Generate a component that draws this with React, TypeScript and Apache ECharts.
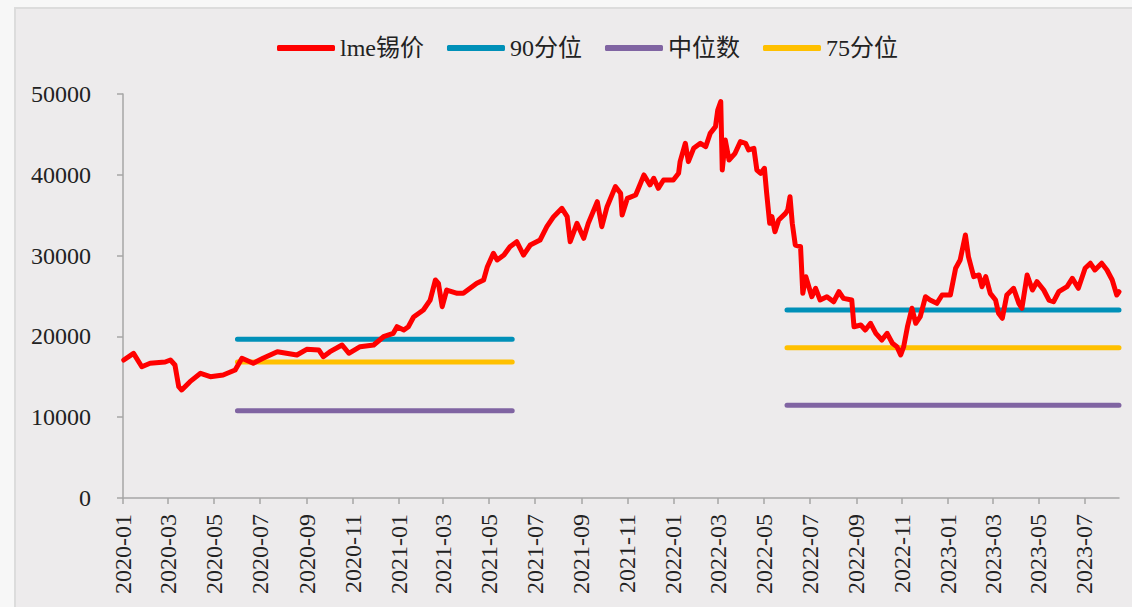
import React, { useEffect, useRef } from "react";
import * as echarts from "echarts";

const seriesNames = ["lme锡价", "90分位", "中位数", "75分位"];

const priceDates = [
  "2020-01-02","2020-01-15","2020-01-26","2020-02-06","2020-02-26","2020-03-04","2020-03-10","2020-03-15","2020-03-19","2020-03-30",
  "2020-04-13","2020-04-26","2020-05-13","2020-05-29","2020-06-07","2020-06-22","2020-07-05","2020-07-24","2020-08-19","2020-09-01",
  "2020-09-17","2020-09-23","2020-10-02","2020-10-18","2020-10-27","2020-11-11","2020-11-29","2020-12-12","2020-12-25","2020-12-30",
  "2021-01-08","2021-01-14","2021-01-21","2021-02-03","2021-02-12","2021-02-19","2021-02-23","2021-02-28","2021-03-06","2021-03-20",
  "2021-03-28","2021-04-06","2021-04-15","2021-04-24","2021-04-29","2021-05-07","2021-05-12","2021-05-21","2021-05-29","2021-06-07",
  "2021-06-16","2021-06-25","2021-07-08","2021-07-17","2021-07-26","2021-08-06","2021-08-13","2021-08-17","2021-08-26","2021-09-04",
  "2021-09-10","2021-09-22","2021-09-28","2021-10-05","2021-10-16","2021-10-23","2021-10-25","2021-11-01","2021-11-12","2021-11-23",
  "2021-12-01","2021-12-06","2021-12-12","2021-12-19","2022-01-01","2022-01-08","2022-01-10","2022-01-17","2022-01-21","2022-01-28",
  "2022-02-06","2022-02-13","2022-02-19","2022-02-26","2022-03-01","2022-03-05","2022-03-07","2022-03-11","2022-03-16","2022-03-24",
  "2022-03-31","2022-04-07","2022-04-11","2022-04-18","2022-04-22","2022-04-27","2022-05-02","2022-05-05","2022-05-09","2022-05-12",
  "2022-05-16","2022-05-21","2022-05-30","2022-06-02","2022-06-05","2022-06-08","2022-06-12","2022-06-19","2022-06-22","2022-06-26",
  "2022-07-04","2022-07-09","2022-07-15","2022-07-24","2022-08-02","2022-08-09","2022-08-15","2022-08-26","2022-08-29","2022-09-07",
  "2022-09-13","2022-09-20","2022-09-27","2022-10-05","2022-10-12","2022-10-19","2022-10-25","2022-10-30","2022-11-03","2022-11-08",
  "2022-11-14","2022-11-19","2022-11-25","2022-12-02","2022-12-08","2022-12-17","2022-12-24","2023-01-04","2023-01-11","2023-01-17",
  "2023-01-24","2023-01-28","2023-02-04","2023-02-11","2023-02-15","2023-02-20","2023-02-26","2023-03-05","2023-03-09","2023-03-14",
  "2023-03-20","2023-03-29","2023-04-05","2023-04-09","2023-04-16","2023-04-23","2023-04-29","2023-05-08","2023-05-15","2023-05-21",
  "2023-05-28","2023-06-08","2023-06-15","2023-06-23","2023-07-02","2023-07-09","2023-07-15","2023-07-24","2023-07-31","2023-08-07",
  "2023-08-13","2023-08-16"
];

const priceValues = [
  17080,17900,16250,16670,16830,17080,16460,13780,13370,14400,
  15430,15010,15220,15840,17290,16670,17290,18110,17700,18400,
  18320,17490,18110,18940,17910,18730,18940,19960,20380,21200,
  20790,21200,22400,23270,24500,26980,26570,23680,25740,25330,
  25330,25950,26570,26980,28630,30280,29460,30070,31100,31720,
  30070,31310,31930,33580,34820,35850,34820,31720,33990,32140,
  33990,36670,33580,36050,38530,37710,35020,37090,37500,39980,
  38740,39570,38330,39360,39360,40190,41630,43900,41630,43280,
  43900,43480,45130,45960,48020,49050,40590,44310,41830,42660,
  44100,43900,43070,43280,40590,40190,40800,37710,34000,34820,
  32960,34410,35230,35640,37290,34000,31310,31100,25330,27390,
  24910,25950,24500,24910,24290,25530,24710,24500,21200,21410,
  20790,21620,20380,19550,20380,19150,18730,17700,18730,21200,
  23480,21620,22440,24910,24500,24090,25120,25120,28430,29460,
  32550,29870,27390,27600,26150,27390,25330,24500,22860,22240,
  25120,25950,24090,23480,27600,25740,26770,25740,24500,24290,
  25530,26150,27180,25950,28430,29050,28220,29050,28220,26980,
  25120,25530
];

// percentile reference segments
const periodStarts = ["2020-06-01", "2022-06-01"];
const periodEnds = ["2021-06-01", "2023-08-16"];
const p90Values = [19640, 23270];
const medianValues = [10800, 11470];
const p75Values = [16830, 18600];

const xTickDates = [
  "2020-01-01","2020-03-01","2020-05-01","2020-07-01","2020-09-01","2020-11-01",
  "2021-01-01","2021-03-01","2021-05-01","2021-07-01","2021-09-01","2021-11-01",
  "2022-01-01","2022-03-01","2022-05-01","2022-07-01","2022-09-01","2022-11-01",
  "2023-01-01","2023-03-01","2023-05-01","2023-07-01"
];
const xMin = "2020-01-01";
const xMax = "2023-08-16";
const yMax = 50000;
const yInterval = 10000;

const colors = ["#ff0000", "#0090b8", "#8064a2", "#ffc000"];

function ts(s: string): number {
  const [y, m, d] = s.split("-").map(Number);
  return Date.UTC(y, m - 1, d);
}

function segData(vals: number[]) {
  const out: any[] = [];
  vals.forEach((v, i) => {
    if (i > 0) out.push([ts(periodEnds[i - 1]) + 86400000 * 30, "-"]);
    out.push([ts(periodStarts[i]), v]);
    out.push([ts(periodEnds[i]), v]);
  });
  return out;
}

export default function App() {
  const ref = useRef<HTMLDivElement>(null);
  useEffect(() => {
    if (!ref.current) return;
    const chart = echarts.init(ref.current, null, { renderer: "svg" });
    const font = "'Liberation Serif', 'Noto Sans CJK SC', serif";
    const tickTs = xTickDates.map(ts);
    const axisColor = "#a6a6a6";
    const refLine = (name: string, color: string, vals: number[]) => ({
      name,
      type: "line",
      data: segData(vals),
      showSymbol: false,
      symbol: "none",
      connectNulls: false,
      z: 2,
      lineStyle: { color, width: 5, cap: "round" },
      itemStyle: { color },
    });
    chart.setOption({
      animation: false,
      backgroundColor: "transparent",
      color: colors,
      legend: {
        left: 272,
        top: 31,
        itemWidth: 58,
        itemHeight: 6,
        itemGap: 23,
        icon: "roundRect",
        data: seriesNames,
        textStyle: { fontFamily: font, fontSize: 24, color: "#222" },
      },
      grid: { left: 123, right: 13, top: 94, bottom: 109, containLabel: false },
      xAxis: {
        type: "value",
        min: ts(xMin),
        max: ts(xMax),
        splitLine: { show: false },
        axisLine: { onZero: false, lineStyle: { color: axisColor, width: 1.5 } },
        axisTick: { show: true, customValues: tickTs, length: 6, lineStyle: { color: axisColor, width: 1.5 } },
        minorTick: { show: false },
        axisLabel: {
          customValues: tickTs,
          rotate: 90,
          margin: 16,
          fontFamily: font,
          fontSize: 24,
          color: "#222",
          formatter: (v: number) => {
            const d = new Date(v);
            const m = d.getUTCMonth() + 1;
            return `${d.getUTCFullYear()}-${m < 10 ? "0" + m : m}`;
          },
        },
      },
      yAxis: {
        type: "value",
        min: 0,
        max: yMax,
        interval: yInterval,
        splitLine: { show: false },
        axisLine: { show: true, lineStyle: { color: axisColor, width: 1.5 } },
        axisTick: { show: true, length: 6, lineStyle: { color: axisColor, width: 1.5 } },
        axisLabel: {
          margin: 32,
          fontFamily: font,
          fontSize: 24,
          color: "#222",
          formatter: (v: number) => String(v),
        },
      },
      series: [
        {
          name: seriesNames[0],
          type: "line",
          data: priceDates.map((d, i) => [ts(d), priceValues[i]]),
          showSymbol: false,
          symbol: "none",
          z: 3,
          lineStyle: { color: colors[0], width: 5, cap: "round", join: "round" },
          itemStyle: { color: colors[0] },
        },
        refLine(seriesNames[1], colors[1], p90Values),
        refLine(seriesNames[2], colors[2], medianValues),
        refLine(seriesNames[3], colors[3], p75Values),
      ],
    });
    return () => chart.dispose();
  }, []);
  return (
    <div style={{ position: "fixed", left: 0, top: 0, width: 1132, height: 607, background: "#f7f7f7", overflow: "hidden" }}>
      <div
        style={{
          position: "absolute",
          left: 14,
          top: 7,
          width: 1132,
          height: 607,
          background: "#edebec",
          borderLeft: "2px solid #dcdcdc",
          borderTop: "2px solid #dcdcdc",
        }}
      />
      <div ref={ref} style={{ position: "absolute", left: 0, top: 0, width: 1132, height: 607 }} />
    </div>
  );
}
